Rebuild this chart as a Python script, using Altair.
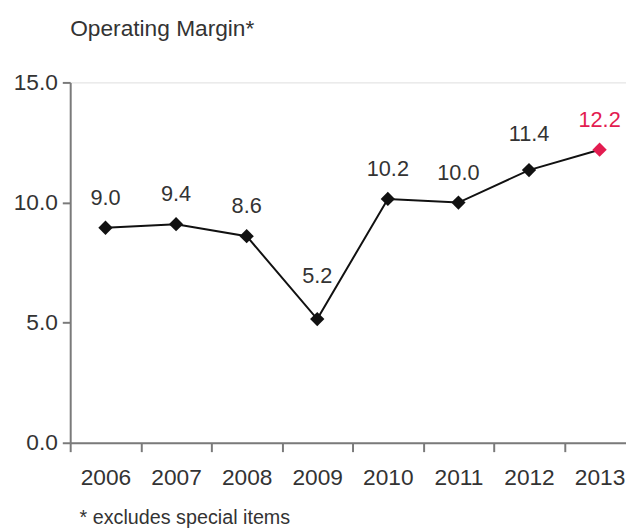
import altair as alt
import pandas as pd

years = ["2006", "2007", "2008", "2009", "2010", "2011", "2012", "2013"]
margin = [8.95, 9.1, 8.6, 5.15, 10.15, 10.0, 11.35, 12.2]
labels = ["9.0", "9.4", "8.6", "5.2", "10.2", "10.0", "11.4", "12.2"]
y_ticks = [0, 5, 10, 15]

df = pd.DataFrame({"year": years, "margin": margin, "label": labels})

FONT = "Liberation Sans"
TEXT = "#333333"
AXIS = "#7a7a7a"
RED = "#e31c50"

x_enc = alt.X(
    "year:N",
    scale=alt.Scale(range=[0, 572], paddingInner=0, paddingOuter=0),
    axis=alt.Axis(
        labelAngle=0, tickBand="extent", tickSize=9, tickWidth=2, tickColor=AXIS,
        domainColor=AXIS, domainWidth=2, labelFontSize=23, labelFont=FONT,
        labelColor=TEXT, labelPadding=15,
        title="* excludes special items", titleFont=FONT, titleFontSize=20,
        titleFontWeight="normal", titleColor=TEXT, titleAlign="left",
        titleBaseline="alphabetic", titleX=9, titleY=82, titleAnchor="start",
    ),
)
y_enc = alt.Y(
    "margin:Q",
    scale=alt.Scale(domain=[0, 15], nice=False, zero=True),
    axis=alt.Axis(
        values=y_ticks, format=".1f", tickSize=8, tickWidth=2, tickColor=AXIS,
        domainColor=AXIS, domainWidth=2, labelFontSize=23, labelFont=FONT,
        labelColor=TEXT, labelPadding=5, grid=False, title=None,
    ),
)

base = alt.Chart(df)

line = base.mark_line(color="#111111", strokeWidth=2).encode(x=x_enc, y=y_enc)

points = base.mark_point(shape="diamond", filled=True, size=210, opacity=1).encode(
    x="year:N",
    y="margin:Q",
    color=alt.condition(alt.datum.year == "2013", alt.value(RED), alt.value("#111111")),
)

text = base.transform_calculate(
    label_y="datum.margin + (datum.year == '2009' ? 0.55 : (datum.year == '2012' ? 0.25 : 0))"
).mark_text(font=FONT, fontSize=22, dy=-30, baseline="middle", align="center").encode(
    x="year:N",
    y="label_y:Q",
    text="label:N",
    color=alt.condition(alt.datum.year == "2013", alt.value(RED), alt.value(TEXT)),
)

chart = alt.layer(line, points, text).properties(
    width=563,
    height=365,
    autosize=alt.AutoSizeParams(type="none"),
    padding={"left": 63, "top": 72, "right": 0, "bottom": 86},
    title=alt.TitleParams(
        "Operating Margin*", anchor="start", frame="group", fontSize=23,
        font=FONT, fontWeight="normal", color=TEXT, offset=31,
    ),
).configure_view(stroke=None).configure(background="white")

chart.save("out.html", embed_options={"renderer": "svg", "actions": False})
